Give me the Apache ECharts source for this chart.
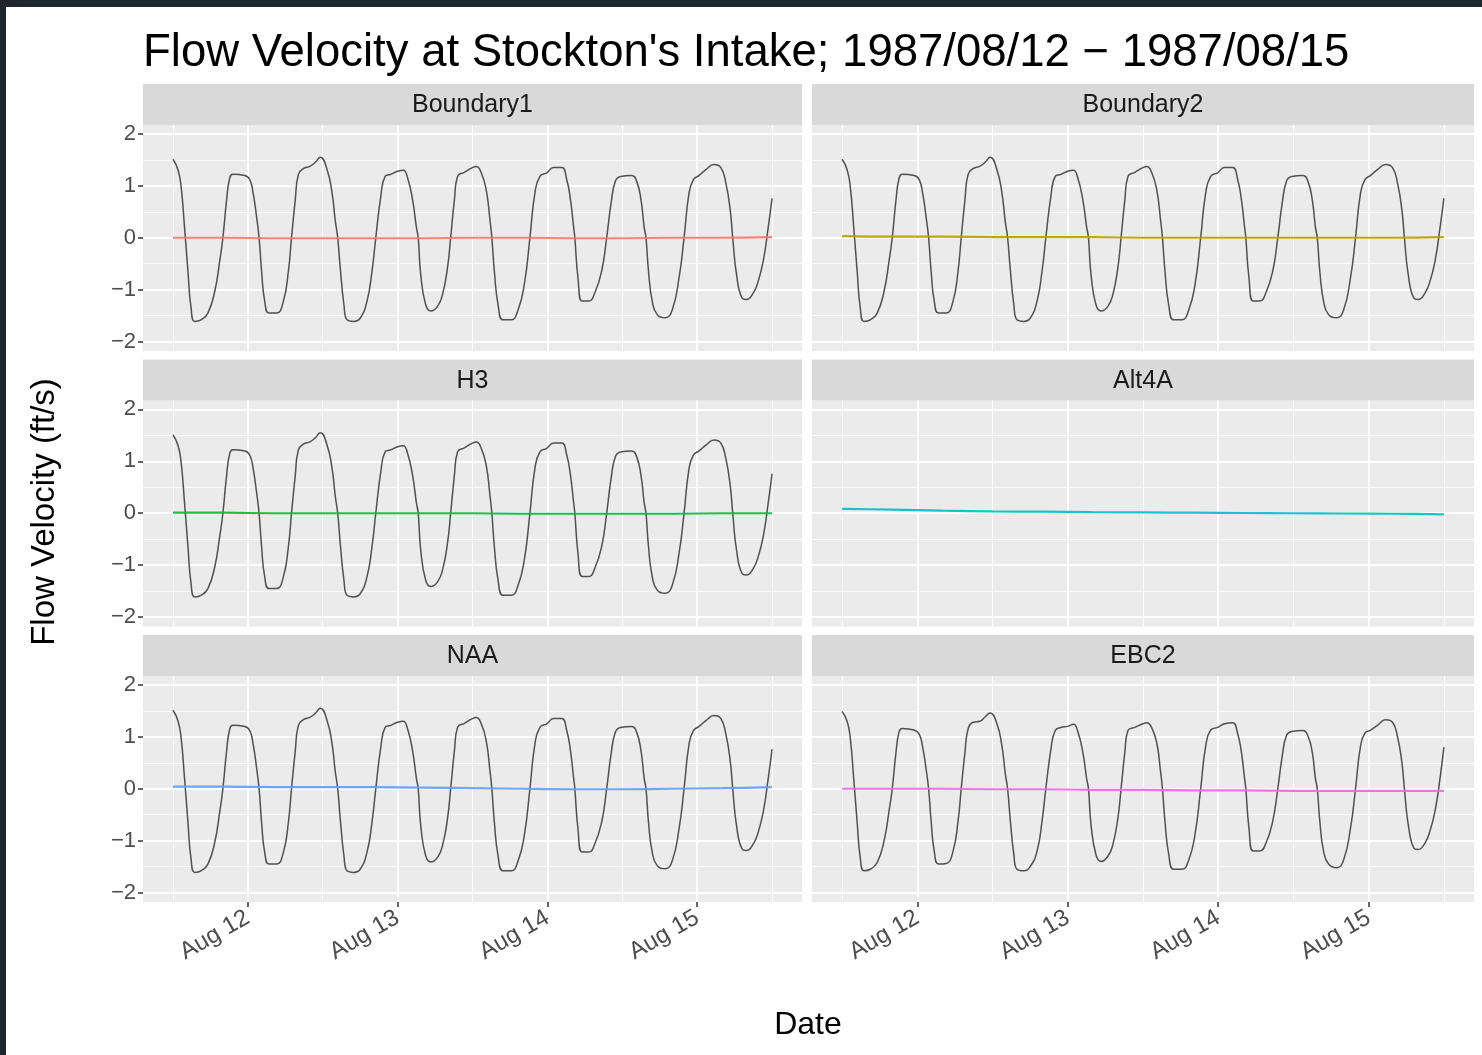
<!DOCTYPE html>
<html><head><meta charset="utf-8">
<script src="https://cdn.jsdelivr.net/npm/echarts@6/dist/echarts.min.js"></script>
<style>
html,body{margin:0;padding:0;background:#1e262e;width:1482px;height:1055px;overflow:hidden;}
#bg{position:absolute;left:6px;top:7px;width:1476px;height:1048px;background:#fff;}
#chart{position:absolute;left:0;top:0;width:1482px;height:1055px;}
</style></head><body>
<div id="bg"></div><div id="chart"></div>
<script>
// ---------------- data ----------------
const panelNames = ['Boundary1', 'Boundary2', 'H3', 'Alt4A', 'NAA', 'EBC2'];
const panelColors = ['#F8766D', '#B79F00', '#00BA38', '#00BFC4', '#619CFF', '#F564E3'];

// hours since 1987-08-11 12:00
const tideHours = [0,0.8,1.3,1.85,2.4,2.9,3.5,4.5,5.6,6.7,7.5,8.0,8.6,9.1,9.6,11.5,12.3,12.85,13.4,13.8,14.2,14.7,15.4,16.6,17.7,18.5,19.0,19.6,20.1,20.9,22.0,22.8,23.6,24.7,25.5,26.0,26.4,26.8,27.4,27.9,29.0,30.0,31.1,31.9,32.5,33.3,34.0,34.9,36.0,36.9,37.6,38.4,39.0,39.3,39.7,40.5,41.3,42.4,43.2,44.0,44.5,45.1,45.6,46.7,48.0,48.6,49.4,50.2,50.8,51.1,51.5,52.1,52.9,54.2,55.3,56.3,57.2,58.0,58.8,59.9,61.0,62.3,63.1,63.7,64.2,64.4,64.9,65.6,66.6,67.6,68.7,69.5,70.2,70.9,71.7,73.5,74.3,75.0,75.5,75.8,76.2,76.8,77.6,78.9,80.0,81.1,81.9,82.7,83.4,84.3,85.4,86.7,87.8,88.6,89.3,89.7,90.3,91.2,91.9,93.0,93.8,94.6,95.4,96.0];

// tidal velocity (Boundary1, Boundary2, H3, NAA)
const tideFlow = [1.51,1.31,0.99,0.21,-0.64,-1.35,-1.61,-1.58,-1.45,-1.03,-0.44,0.0,0.73,1.15,1.22,1.2,1.12,0.86,0.40,0.0,-0.64,-1.22,-1.45,-1.45,-1.22,-0.64,0.0,0.73,1.22,1.33,1.38,1.45,1.55,1.31,0.86,0.34,0.0,-0.57,-1.29,-1.58,-1.61,-1.55,-1.22,-0.64,0.0,0.79,1.18,1.22,1.28,1.30,1.15,0.73,0.21,0.0,-0.70,-1.29,-1.41,-1.32,-1.09,-0.57,0.0,0.73,1.18,1.26,1.35,1.37,1.25,0.92,0.34,0.0,-0.64,-1.29,-1.58,-1.58,-1.39,-0.90,0.0,0.86,1.18,1.25,1.35,1.35,1.12,0.73,0.21,0.0,-0.77,-1.22,-1.22,-1.06,-0.64,0.0,0.66,1.09,1.18,1.2,1.09,0.73,0.21,0.0,-0.64,-1.22,-1.48,-1.54,-1.39,-0.77,0.0,0.86,1.12,1.2,1.31,1.41,1.35,1.05,0.53,0.0,-0.70,-1.16,-1.19,-1.06,-0.83,-0.44,0.21,0.76];

// tidal velocity (EBC2)
const ebc2Flow = [1.49,1.3,0.98,0.2,-0.64,-1.33,-1.58,-1.55,-1.42,-1.0,-0.42,0.0,0.7,1.1,1.16,1.13,1.05,0.8,0.38,0.0,-0.62,-1.2,-1.45,-1.44,-1.2,-0.62,0.0,0.7,1.15,1.28,1.3,1.38,1.46,1.25,0.82,0.32,0.0,-0.56,-1.27,-1.55,-1.58,-1.5,-1.2,-0.62,0.0,0.75,1.12,1.18,1.2,1.24,1.1,0.7,0.2,0.0,-0.68,-1.27,-1.4,-1.3,-1.07,-0.56,0.0,0.7,1.12,1.18,1.25,1.27,1.17,0.88,0.33,0.0,-0.62,-1.26,-1.55,-1.55,-1.37,-0.88,0.0,0.82,1.13,1.18,1.25,1.27,1.06,0.7,0.2,0.0,-0.75,-1.2,-1.2,-1.05,-0.62,0.0,0.62,1.03,1.1,1.12,1.02,0.7,0.2,0.0,-0.62,-1.2,-1.45,-1.52,-1.37,-0.76,0.0,0.82,1.07,1.13,1.22,1.33,1.28,1.0,0.5,0.0,-0.68,-1.14,-1.17,-1.04,-0.8,-0.42,0.22,0.8];

// net (filtered) velocity per scenario
const netHours = [0,8,16,24,32,40,48,56,64,72,80,88,96];
const netBoundary1 = [0.0,0.0,-0.01,-0.01,-0.01,-0.01,0.0,0.0,-0.01,-0.01,0.0,0.0,0.01];
const netBoundary2 = [0.03,0.02,0.02,0.01,0.01,0.01,0.0,0.0,0.0,0.0,0.0,0.0,0.01];
const netH3 = [0.01,0.01,0.0,0.0,0.0,0.0,0.0,-0.01,-0.01,-0.01,-0.01,0.0,0.0];
const netAlt4A = [0.085,0.07,0.05,0.035,0.03,0.02,0.015,0.01,0.005,0.0,-0.005,-0.01,-0.02];
const netNAA = [0.04,0.04,0.03,0.03,0.03,0.02,0.01,0.0,-0.01,-0.01,0.0,0.01,0.03];
const netEBC2 = [0.0,0.0,0.0,-0.01,-0.01,-0.02,-0.02,-0.03,-0.03,-0.04,-0.04,-0.04,-0.04];

// axes
const dayHours = [12, 36, 60, 84];
const dayLabels = ['Aug 12', 'Aug 13', 'Aug 14', 'Aug 15'];
const halfDayHours = [0, 24, 48, 72, 96];
const yTicks = [-2, -1, 0, 1, 2];
const yTickLabels = ['\u22122', '\u22121', '0', '1', '2'];
const yMinorTicks = [-1.5, -0.5, 0.5, 1.5];

const titleText = "Flow Velocity at Stockton's Intake; 1987/08/12 \u2212 1987/08/15";
const yTitle = 'Flow Velocity (ft/s)';
const xTitle = 'Date';

// ---------------- layout ----------------
const FONT = "'Liberation Sans', Arial, sans-serif";
const colLeft = [143, 812];
const colWidth = [659, 662];
const rowTop = [125, 400.5, 676];
const panelH = 226;
const stripH = 41;

const tideByPanel = [tideFlow, tideFlow, tideFlow, null, tideFlow, ebc2Flow];
const netByPanel = [netBoundary1, netBoundary2, netH3, netAlt4A, netNAA, netEBC2];

function pairs(xs, ys) { return xs.map((x, i) => [x, ys[i]]); }

const grids = [], xAxes = [], yAxes = [], series = [], graphics = [];
panelNames.forEach((name, i) => {
  const r = Math.floor(i / 2), c = i % 2;
  const isBottom = r === 2, isLeft = c === 0;
  grids.push({ left: colLeft[c], top: rowTop[r], width: colWidth[c], height: panelH,
    show: true, backgroundColor: '#ebebeb', borderWidth: 0 });
  xAxes.push({ gridIndex: i, type: 'value', min: -4.8, max: 100.8,
    axisLine: { show: isBottom, onZero: false, lineStyle: { color: 'rgba(0,0,0,0)' } },
    splitLine: { show: false },
    axisTick: { show: isBottom, customValues: dayHours, length: 5, lineStyle: { color: '#333', width: 1.5 } },
    axisLabel: { show: isBottom, customValues: dayHours, rotate: 30, margin: 14,
      color: '#4d4d4d', fontFamily: FONT, fontSize: 24,
      formatter: v => dayLabels[dayHours.indexOf(Math.round(v))] } });
  yAxes.push({ gridIndex: i, type: 'value', min: -2.18, max: 2.17,
    axisLine: { show: isLeft, onZero: false, lineStyle: { color: 'rgba(0,0,0,0)' } },
    splitLine: { show: false },
    axisTick: { show: isLeft, customValues: yTicks, length: 5, lineStyle: { color: '#333', width: 1.5 } },
    axisLabel: { show: isLeft, customValues: yTicks, margin: 7,
      color: '#4d4d4d', fontFamily: FONT, fontSize: 22,
      formatter: v => yTickLabels[yTicks.indexOf(Math.round(v))] } });
  // grid lines
  const major = { color: '#ffffff', width: 1.8, type: 'solid' };
  const minor = { color: '#ffffff', width: 0.9, type: 'solid' };
  const mlData = [];
  yMinorTicks.forEach(v => mlData.push({ yAxis: v, lineStyle: minor }));
  halfDayHours.forEach(v => mlData.push({ xAxis: v, lineStyle: minor }));
  yTicks.forEach(v => mlData.push({ yAxis: v, lineStyle: major }));
  dayHours.forEach(v => mlData.push({ xAxis: v, lineStyle: major }));
  series.push({ type: 'line', xAxisIndex: i, yAxisIndex: i, data: [], z: 1, silent: true,
    markLine: { z: 1, silent: true, symbol: 'none', animation: false, label: { show: false }, data: mlData } });
  if (tideByPanel[i]) {
    series.push({ type: 'line', xAxisIndex: i, yAxisIndex: i, z: 3, silent: true,
      data: pairs(tideHours, tideByPanel[i]), showSymbol: false, smooth: 0.5,
      lineStyle: { color: '#505050', width: 1.5 } });
  }
  series.push({ type: 'line', xAxisIndex: i, yAxisIndex: i, z: 4, silent: true,
    data: pairs(netHours, netByPanel[i]), showSymbol: false, smooth: 0.3,
    lineStyle: { color: panelColors[i], width: 2.2, opacity: 0.9 } });
  // strip
  graphics.push({ type: 'rect', silent: true, z: 0,
    shape: { x: colLeft[c], y: rowTop[r] - stripH, width: colWidth[c], height: stripH },
    style: { fill: '#d9d9d9' } });
  graphics.push({ type: 'text', silent: true,
    x: colLeft[c] + colWidth[c] / 2, y: rowTop[r] - stripH / 2 + 1,
    style: { text: name, fill: '#1a1a1a', font: '25px ' + FONT, align: 'center', verticalAlign: 'middle' } });
});

graphics.push({ type: 'text', silent: true, x: 143, y: 53,
  style: { text: titleText, fill: '#000', font: '45.5px ' + FONT, align: 'left', verticalAlign: 'middle' } });
graphics.push({ type: 'text', silent: true, x: 808, y: 1025,
  style: { text: xTitle, fill: '#000', font: '32px ' + FONT, align: 'center', verticalAlign: 'middle' } });
graphics.push({ type: 'text', silent: true, x: 45, y: 512, rotation: Math.PI / 2,
  style: { text: yTitle, fill: '#000', font: '33px ' + FONT, align: 'center', verticalAlign: 'middle' } });

const chart = echarts.init(document.getElementById('chart'), null, { renderer: 'canvas' });
chart.setOption({
  animation: false,
  backgroundColor: 'transparent',
  grid: grids, xAxis: xAxes, yAxis: yAxes, series: series,
  graphic: graphics
});
</script></body></html>
